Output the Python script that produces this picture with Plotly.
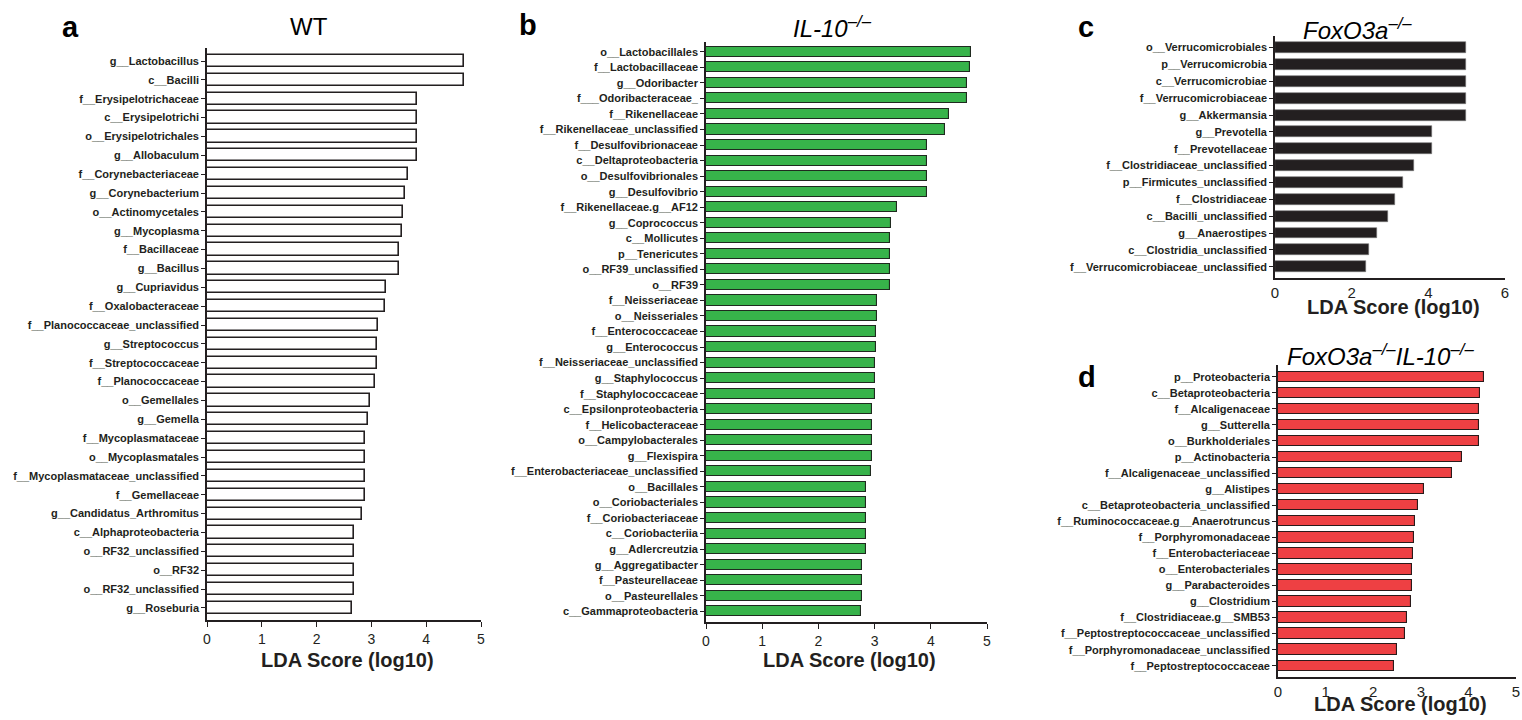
import plotly.graph_objects as go

W, H = 1522, 720

# ---------------- data ----------------
wt_labels = ["g__Lactobacillus", "c__Bacilli", "f__Erysipelotrichaceae", "c__Erysipelotrichi",
             "o__Erysipelotrichales", "g__Allobaculum", "f__Corynebacteriaceae", "g__Corynebacterium",
             "o__Actinomycetales", "g__Mycoplasma", "f__Bacillaceae", "g__Bacillus", "g__Cupriavidus",
             "f__Oxalobacteraceae", "f__Planococcaceae_unclassified", "g__Streptococcus",
             "f__Streptococcaceae", "f__Planococcaceae", "o__Gemellales", "g__Gemella",
             "f__Mycoplasmataceae", "o__Mycoplasmatales", "f__Mycoplasmataceae_unclassified",
             "f__Gemellaceae", "g__Candidatus_Arthromitus", "c__Alphaproteobacteria",
             "o__RF32_unclassified", "o__RF32", "o__RF32_unclassified", "g__Roseburia"]
wt_values = [4.69, 4.69, 3.83, 3.83, 3.83, 3.83, 3.66, 3.61, 3.58, 3.56, 3.51, 3.50, 3.27, 3.24,
             3.12, 3.10, 3.10, 3.07, 2.97, 2.93, 2.89, 2.89, 2.88, 2.88, 2.83, 2.69, 2.69, 2.69,
             2.69, 2.65]

il10_labels = ["o__Lactobacillales", "f__Lactobacillaceae", "g__Odoribacter", "f___Odoribacteraceae_",
               "f__Rikenellaceae", "f__Rikenellaceae_unclassified", "f__Desulfovibrionaceae",
               "c__Deltaproteobacteria", "o__Desulfovibrionales", "g__Desulfovibrio",
               "f__Rikenellaceae.g__AF12", "g__Coprococcus", "c__Mollicutes", "p__Tenericutes",
               "o__RF39_unclassified", "o__RF39", "f__Neisseriaceae", "o__Neisseriales",
               "f__Enterococcaceae", "g__Enterococcus", "f__Neisseriaceae_unclassified",
               "g__Staphylococcus", "f__Staphylococcaceae", "c__Epsilonproteobacteria",
               "f__Helicobacteraceae", "o__Campylobacterales", "g__Flexispira",
               "f__Enterobacteriaceae_unclassified", "o__Bacillales", "o__Coriobacteriales",
               "f__Coriobacteriaceae", "c__Coriobacteriia", "g__Adlercreutzia", "g__Aggregatibacter",
               "f__Pasteurellaceae", "o__Pasteurellales", "c__Gammaproteobacteria"]
il10_values = [4.71, 4.70, 4.65, 4.65, 4.32, 4.25, 3.93, 3.93, 3.93, 3.93, 3.39, 3.30, 3.27, 3.27,
               3.27, 3.27, 3.04, 3.04, 3.02, 3.02, 3.01, 3.00, 3.00, 2.95, 2.95, 2.95, 2.95, 2.94,
               2.85, 2.84, 2.84, 2.84, 2.84, 2.78, 2.78, 2.78, 2.76]

fox_labels = ["o__Verrucomicrobiales", "p__Verrucomicrobia", "c__Verrucomicrobiae",
              "f__Verrucomicrobiaceae", "g__Akkermansia", "g__Prevotella", "f__Prevotellaceae",
              "f__Clostridiaceae_unclassified", "p__Firmicutes_unclassified", "f__Clostridiaceae",
              "c__Bacilli_unclassified", "g__Anaerostipes", "c__Clostridia_unclassified",
              "f__Verrucomicrobiaceae_unclassified"]
fox_values = [4.97, 4.97, 4.97, 4.97, 4.97, 4.09, 4.09, 3.63, 3.35, 3.12, 2.94, 2.65, 2.44, 2.38]

dko_labels = ["p__Proteobacteria", "c__Betaproteobacteria", "f__Alcaligenaceae", "g__Sutterella",
              "o__Burkholderiales", "p__Actinobacteria", "f__Alcaligenaceae_unclassified",
              "g__Alistipes", "c__Betaproteobacteria_unclassified",
              "f__Ruminococcaceae.g__Anaerotruncus", "f__Porphyromonadaceae",
              "f__Enterobacteriaceae", "o__Enterobacteriales", "g__Parabacteroides",
              "g__Clostridium", "f__Clostridiaceae.g__SMB53",
              "f__Peptostreptococcaceae_unclassified", "f__Porphyromonadaceae_unclassified",
              "f__Peptostreptococcaceae"]
dko_values = [4.33, 4.24, 4.22, 4.22, 4.22, 3.86, 3.66, 3.06, 2.95, 2.87, 2.86, 2.83, 2.82, 2.81,
              2.80, 2.71, 2.66, 2.51, 2.43]

x_ticks_5 = [0, 1, 2, 3, 4, 5]
x_ticks_6 = [0, 2, 4, 6]
axis_title = "LDA Score (log10)"

# ---------------- layout helpers ----------------
FONT = "Arial, Liberation Sans, sans-serif"
INK = "#231f20"

def px_x(p):
    return p / W

def px_y(p):
    return 1 - p / H

# compact=True: tick labels sit right under the axis (ticks drawn by an overlay axis)
panels = [
    dict(labels=wt_labels, values=wt_values, fill="white", lc=INK, lw=1.6,
         xpx=(207, 481), ypx=(48, 620), xmax=5, ticks=x_ticks_5, ptop=0.69, pbot=0.64,
         title_y=660, tick_size=14, compact=False),
    dict(labels=il10_labels, values=il10_values, fill="#37b34a", lc="#1f2a1f", lw=1.1,
         xpx=(706, 987), ypx=(42, 622), xmax=5, ticks=x_ticks_5, ptop=0.63, pbot=0.69,
         title_y=660, tick_size=14, compact=False),
    dict(labels=fox_labels, values=fox_values, fill="#231f20", lc="#777777", lw=0.6,
         xpx=(1275, 1505), ypx=(36, 278), xmax=6, ticks=x_ticks_6, ptop=0.69, pbot=0.67,
         title_y=307, tick_size=15, compact=True),
    dict(labels=dko_labels, values=dko_values, fill="#ee4043", lc="#2a1a1a", lw=1.1,
         xpx=(1278, 1516), ypx=(365, 677), xmax=5, ticks=x_ticks_5, ptop=0.73, pbot=0.70,
         title_y=704, tick_size=15, compact=True),
]

fig = go.Figure()
layout = dict(width=W, height=H, margin=dict(l=0, r=0, t=0, b=0, autoexpand=False),
              paper_bgcolor="white", plot_bgcolor="white", showlegend=False,
              font=dict(family=FONT, color=INK), bargap=0)

annotations = []
extra = 5
for i, p in enumerate(panels):
    k = "" if i == 0 else str(i + 1)
    n = len(p["labels"])
    idx = list(range(n))
    fig.add_trace(go.Bar(orientation="h", x=p["values"], y=idx, width=0.65,
                         marker=dict(color=p["fill"], line=dict(color=p["lc"], width=p["lw"])),
                         xaxis="x" + k, yaxis="y" + k, hoverinfo="x+text",
                         hovertext=p["labels"]))
    dom = [px_x(p["xpx"][0]), px_x(p["xpx"][1])]
    layout["xaxis" + k] = dict(
        domain=dom, anchor="y" + k, automargin=False,
        range=[0, p["xmax"]], tickmode="array", tickvals=p["ticks"],
        ticks="" if p["compact"] else "outside", ticklen=5, tickwidth=1.3, tickcolor=INK,
        showline=True, linecolor=INK, linewidth=1.6, showgrid=False, zeroline=False,
        tickfont=dict(size=p["tick_size"], family=FONT, color=INK))
    if p["compact"]:
        layout["xaxis" + str(extra)] = dict(
            domain=dom, anchor="y" + k, overlaying="x" + k, automargin=False,
            range=[0, p["xmax"]], tickmode="array", tickvals=p["ticks"],
            ticks="outside", ticklen=4, tickwidth=1.3, tickcolor=INK, side="bottom",
            showticklabels=False, showline=False, showgrid=False, zeroline=False)
        extra += 1
    layout["yaxis" + k] = dict(
        domain=[px_y(p["ypx"][1]), px_y(p["ypx"][0])], anchor="x" + k, automargin=False,
        range=[n - 1 + p["pbot"], -p["ptop"]], tickmode="array", tickvals=idx,
        ticktext=["<b>" + s + "</b>" for s in p["labels"]],
        ticks="outside", ticklen=4, tickwidth=1.2, tickcolor=INK,
        showline=True, linecolor=INK, linewidth=1.6, showgrid=False, zeroline=False,
        tickfont=dict(size=11, family=FONT, color=INK))
    annotations.append(dict(text="<b>" + axis_title + "</b>",
                            x=px_x((p["xpx"][0] + p["xpx"][1]) / 2 + 3), y=px_y(p["title_y"]),
                            xref="paper", yref="paper", showarrow=False,
                            xanchor="center", yanchor="middle",
                            font=dict(size=20, family=FONT, color=INK)))

def ann(text, x, y, size, bold=False):
    return dict(text=("<b>%s</b>" % text) if bold else text, x=px_x(x), y=px_y(y),
                xref="paper", yref="paper", showarrow=False, xanchor="center", yanchor="middle",
                font=dict(size=size, family=FONT, color="black"))

annotations += [
    ann("a", 70, 27, 29, True),
    ann("WT", 309, 27, 24),
    ann("b", 528, 25, 29, True),
    ann("<i>IL-10<sup>–/–</sup></i>", 833, 27, 24),
    ann("c", 1086, 27, 29, True),
    ann("<i>FoxO3a<sup>–/–</sup></i>", 1357, 29, 24),
    ann("d", 1087, 377, 29, True),
    ann("<i>FoxO3a<sup>–/–</sup>IL-10<sup>–/–</sup></i>", 1380, 355, 24),
]
layout["annotations"] = annotations

fig.update_layout(**layout)
fig.write_html("out.html", config={"displayModeBar": False},
               post_script="document.body.style.margin='0';document.body.style.overflow='hidden';")
